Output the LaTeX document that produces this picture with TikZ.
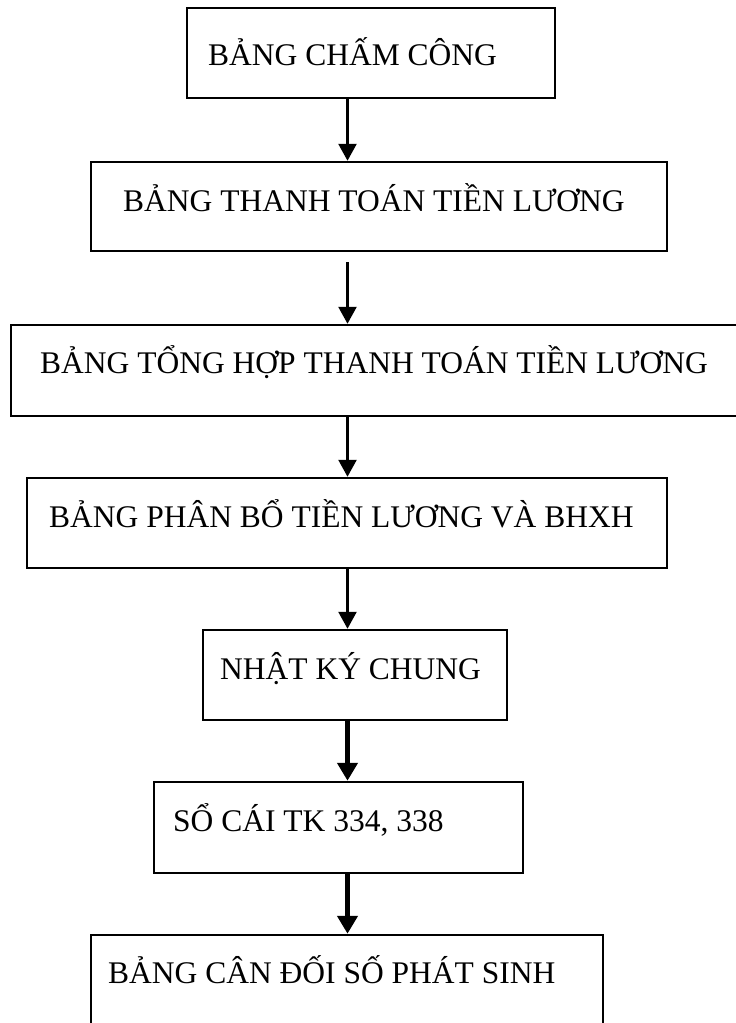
\documentclass[tikz,border=0pt]{standalone}
\usepackage{fontspec}
\setmainfont{Liberation Serif}
\usetikzlibrary{arrows.meta}

\tikzset{
  stepbox/.style={draw=black, line width=2.5pt, rectangle, inner sep=0pt},
  steptext/.style={inner sep=0pt, anchor=base west, font=\fontsize{31.5}{36}\selectfont},
  flow/.style={line width=2.6pt, -{Triangle[width=18pt,length=17pt]}},
  boldflow/.style={line width=5.5pt, -{Triangle[width=20pt,length=18pt]}},
}

\begin{document}
\begin{tikzpicture}[x=1pt, y=-1pt]
  \useasboundingbox (0,0) rectangle (736,1023);
  \clip (0,0) rectangle (736,1023);

  % boxes
  \node[stepbox, minimum width=368pt, minimum height=90pt] (b1) at (371,53) {};
  \node[stepbox, minimum width=576pt, minimum height=89pt] (b2) at (379,206.5) {};
  \node[stepbox, minimum width=734pt, minimum height=91pt] (b3) at (378,370.5) {};
  \node[stepbox, minimum width=640pt, minimum height=90pt] (b4) at (347,523) {};
  \node[stepbox, minimum width=304pt, minimum height=90pt] (b5) at (355,675) {};
  \node[stepbox, minimum width=369pt, minimum height=91pt] (b6) at (338.5,827.5) {};
  \node[stepbox, minimum width=512pt, minimum height=105pt] (b7) at (347,987.5) {};

  % labels
  \node[steptext] (t1) at (208,65) {BẢNG CHẤM CÔNG};
  \node[steptext] (t2) at (123,211) {BẢNG THANH TOÁN TIỀN LƯƠNG};
  \node[steptext] (t3) at (40,373) {BẢNG TỔNG HỢP THANH TOÁN TIỀN LƯƠNG};
  \node[steptext] (t4) at (49,527) {BẢNG PHÂN BỔ TIỀN LƯƠNG VÀ BHXH};
  \node[steptext] (t5) at (220,679) {NHẬT KÝ CHUNG};
  \node[steptext] (t6) at (173,831) {SỔ CÁI TK 334, 338};
  \node[steptext] (t7) at (108,983) {BẢNG CÂN ĐỐI SỐ PHÁT SINH};

  % connectors along the common axis
  \coordinate (axis) at (347.5,0);
  \coordinate (a2start) at (347.5,262);

  \draw[flow] (b1.south -| axis) -- (b2.north -| axis);
  \draw[flow] (a2start) -- (b3.north -| axis);
  \draw[flow] (b3.south -| axis) -- (b4.north -| axis);
  \draw[flow] (b4.south -| axis) -- (b5.north -| axis);
  \draw[boldflow] (b5.south -| axis) -- (b6.north -| axis);
  \draw[boldflow] (b6.south -| axis) -- (b7.north -| axis);
\end{tikzpicture}
\end{document}
